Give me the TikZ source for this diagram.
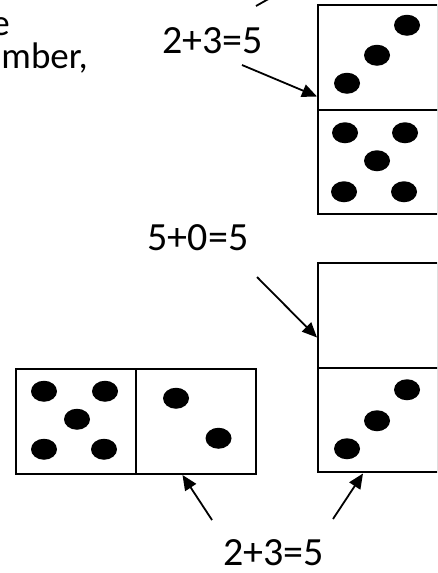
\documentclass[tikz,border=0pt]{standalone}
\usepackage{fontspec}
\setmainfont{Carlito}
\usetikzlibrary{arrows.meta,positioning,calc}

\begin{document}
\begin{tikzpicture}[x=1pt,y=-1pt,
  half/.style={rectangle,draw=black,line width=2pt,minimum width=120pt,
               minimum height=104.5pt,inner sep=0pt,outer sep=0pt},
  pip/.style={fill=black},
  sum/.style={font=\fontsize{40}{48}\selectfont,inner sep=0pt,anchor=base},
  note/.style={font=\fontsize{37}{44}\selectfont,inner sep=0pt,anchor=base east},
  arr/.style={line width=1.8pt,-{Triangle[length=15pt,width=13pt]}}]

  \useasboundingbox (0,0) rectangle (437,573);
  \clip (0,0) rectangle (437,573);

  % dominoes
  \node[half,anchor=north west] (tA) at (318,5) {};
  \node[half,below=0pt of tA] (tB) {};

  \node[half,anchor=north west] (mA) at (318,263) {};
  \node[half,below=0pt of mA] (mB) {};

  \node[half,anchor=north west] (bL) at (16,369) {};
  \node[half,right=0pt of bL] (bR) {};

  % pips
  \foreach \p in {(-31,26),(-1,-2),(29,-32)}
    \fill[pip] ([shift={\p}]tA.center) ellipse (13 and 10.5);
  \foreach \p in {(-33,-29),(27,-29),(-1,-1),(-34,30),(26,30)}
    \fill[pip] ([shift={\p}]tB.center) ellipse (13 and 10.5);
  \foreach \p in {(-31,29),(-1,1),(29,-30)}
    \fill[pip] ([shift={\p}]mB.center) ellipse (13 and 10.5);
  \foreach \p in {(-32,-30),(29,-30),(1,-2),(-32,28),(28,28)}
    \fill[pip] ([shift={\p}]bL.center) ellipse (13 and 10.5);
  \foreach \p in {(-20,-23),(22.5,17)}
    \fill[pip] ([shift={\p}]bR.center) ellipse (13 and 10.5);

  % labels
  \node[sum] (sumTop) at (212.5,53) {2+3=5};
  \node[sum] (sumMid) at (198,250) {5+0=5};
  \node[sum] (sumBot) at (273.5,565) {2+3=5};
  \node[note] (txtA) at (10,35) {e};
  \node[note] (txtB) at (88,68) {mber,};

  % arrows
  \coordinate (tailTop) at (242,65);
  \coordinate (tailMid) at (257,277);
  \coordinate (tailBL) at (212,520);
  \coordinate (tailBR) at (333,519);
  \coordinate (cutA) at (256,6);
  \coordinate (cutB) at (272,-3);

  \draw[arr] (tailTop) -- ($(tA.south west)+(-1,-13)$);
  \draw[arr] (tailMid) -- ($(mA.south west)+(-1,-30)$);
  \draw[arr] (tailBL) -- ($(bR.south)+(-13.5,1.5)$);
  \draw[arr] (tailBR) -- ($(mB.south)+(-15,1.5)$);
  \draw[line width=1.8pt] (cutA) -- (cutB);
\end{tikzpicture}
\end{document}
